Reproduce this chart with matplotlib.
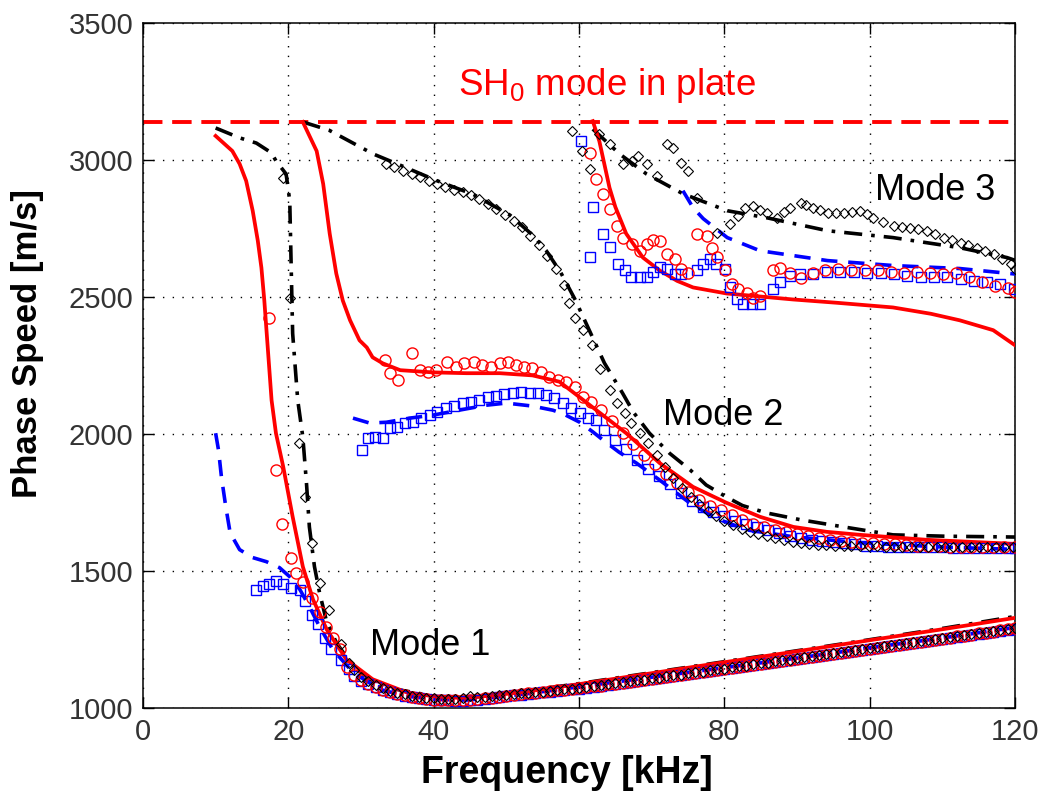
import numpy as np
import matplotlib
matplotlib.use("Agg")
import matplotlib.pyplot as plt

plt.rcParams['font.family'] = ['Liberation Sans', 'DejaVu Sans']
plt.rcParams['mathtext.fontset'] = 'custom'
plt.rcParams['mathtext.rm'] = 'Liberation Sans'
plt.rcParams['mathtext.it'] = 'Liberation Sans'

# ------------------------
# 1. Data  (freq in kHz, phase speed in m/s)
# ------------------------
sh0_speed = 3140

# --- theory: red solid
red1_f = [10.0, 12.3, 13.3, 14.2, 15.1, 15.8, 16.3, 16.7, 17.2, 17.7, 18.3, 19.3, 20.6, 22.0, 23.4,
          25.3, 28.0, 31.6, 36.3, 39.9, 43.5, 47.5, 52.5, 60.5, 70.5, 80.5, 90.5, 100.4, 110.4, 120]
red1_v = [3089, 3034, 2987, 2925, 2816, 2707, 2608, 2488, 2306, 2124, 2004, 1882, 1699, 1517, 1397,
          1287, 1178, 1106, 1058, 1044, 1038, 1045, 1060, 1090, 1130, 1170, 1210, 1250, 1290, 1330]
red2_f = [22.0, 23.9, 24.8, 25.7, 26.6, 27.5, 28.5, 29.8, 30.8, 31.6, 33.0, 35.4, 39.9, 44.5, 49.1,
          53.6, 57.3, 60.1, 62.2, 66.5, 71.1, 75.7, 80.3, 84.9, 89.5, 94.1, 98.7, 107.8, 120]
red2_v = [3140, 3034, 2914, 2732, 2587, 2488, 2416, 2343, 2317, 2281, 2259, 2234, 2226, 2223, 2223,
          2215, 2192, 2135, 2092, 2004, 1895, 1808, 1750, 1699, 1662, 1644, 1633, 1615, 1600]
red3_f = [61.9, 62.8, 64.2, 65.0, 66.5, 68.8, 71.1, 73.5, 75.7, 80.3, 89.5, 95.5, 103.2, 108.4, 112.4, 117.0, 120]
red3_v = [3143, 3070, 2900, 2830, 2732, 2645, 2598, 2560, 2536, 2514, 2492, 2480, 2463, 2440, 2416, 2380, 2325]

# --- theory: black dash-dot
blk1_f = [10.0, 13.3, 15.6, 17.7, 18.3, 19.7, 20.2, 20.4, 20.6, 21.3, 22.0, 22.5, 22.9, 23.6, 24.3,
          25.2, 26.6, 28.9, 32.6, 37.2, 40.5, 44.5, 48.5, 52.5, 60.5, 70.5, 80.5, 90.5, 100.4, 110.4, 120]
blk1_v = [3118, 3082, 3063, 3027, 2998, 2950, 2852, 2608, 2368, 2124, 1990, 1822, 1662, 1517, 1422,
          1324, 1240, 1153, 1080, 1058, 1042, 1038, 1048, 1062, 1092, 1132, 1172, 1212, 1252, 1293, 1335]
blk2_f = [22.0, 25.6, 31.7, 35.6, 40.5, 45.5, 50.5, 53.5, 55.5, 57.5, 59.5, 61.5, 63.5, 66.0, 67.5,
          69.7, 72.5, 75.3, 77.5, 80.3, 82.5, 85.8, 90.5, 96.4, 103.2, 110.4, 117.0, 120]
blk2_v = [3140, 3110, 3023, 2980, 2925, 2875, 2800, 2730, 2670, 2590, 2490, 2375, 2260, 2150, 2080,
          2004, 1930, 1870, 1815, 1771, 1740, 1713, 1688, 1662, 1633, 1628, 1626, 1625]
blk3_f = [61.9, 65.6, 69.3, 74.3, 80.4, 85.9, 94.2, 103.2, 112.4, 118.9, 120]
blk3_v = [3114, 3023, 2950, 2878, 2816, 2790, 2743, 2718, 2681, 2645, 2635]

# --- theory: blue dashed
blu1_f = [10.0, 10.4, 10.8, 11.4, 12.0, 13.3, 15.1, 17.0, 18.8, 20.2, 21.6, 22.9, 24.3, 26.1,
          28.9, 32.6, 36.3, 40.5, 44.5, 48.5, 52.5, 60.5, 70.5, 80.5, 90.5, 100.4, 110.4, 120]
blu1_v = [2004, 1942, 1844, 1735, 1640, 1579, 1550, 1535, 1513, 1480, 1433, 1371, 1298, 1215,
          1131, 1069, 1044, 1032, 1030, 1040, 1052, 1080, 1115, 1150, 1185, 1222, 1258, 1295]
blu2_f = [28.9, 31.2, 33.5, 36.7, 39.9, 43.5, 47.2, 50.0, 53.6, 56.4, 57.8, 60.1, 61.9, 63.5,
          65.5, 67.9, 71.1, 75.7, 79.4, 83.1, 89.5, 98.7, 110.4, 120]
blu2_v = [2059, 2041, 2044, 2059, 2070, 2088, 2106, 2114, 2103, 2088, 2075, 2044, 2009, 1975,
          1935, 1895, 1833, 1740, 1688, 1651, 1626, 1604, 1588, 1580]
blu3_f = [74.3, 75.7, 77.1, 80.4, 84.9, 94.2, 103.2, 112.4, 120]
blu3_v = [2889, 2827, 2787, 2718, 2670, 2634, 2616, 2605, 2585]

# --- measured: mode 1 (uniform 1 kHz grid after the steep part)
m1_tail_f = list(range(29, 121))

sq1_f = [15.6, 16.5, 17.4, 18.3, 19.3, 20.4, 21.6, 22.3, 23.2, 24.1, 25.0, 25.9, 27.3, 28.3] + m1_tail_f
sq1_v = [1431, 1445, 1455, 1463, 1455, 1440, 1433, 1391, 1339, 1306, 1258, 1218, 1178, 1145,
         1118, 1100, 1087, 1076, 1066, 1058, 1051, 1046, 1041, 1037,
         1034, 1031, 1030, 1029, 1028, 1028, 1030, 1032, 1035, 1038,
         1041, 1044, 1047, 1050, 1053, 1055, 1058, 1060, 1063, 1066,
         1069, 1072, 1075, 1079, 1082, 1085, 1089, 1092, 1096, 1099,
         1103, 1106, 1110, 1113, 1117, 1120, 1124, 1128, 1131, 1135,
         1139, 1142, 1146, 1150, 1153, 1157, 1161, 1164, 1168, 1172,
         1175, 1179, 1183, 1186, 1190, 1194, 1197, 1201, 1205, 1208,
         1212, 1216, 1219, 1223, 1227, 1230, 1234, 1238, 1241, 1245,
         1249, 1252, 1256, 1260, 1263, 1267, 1271, 1274, 1278, 1282,
         1285, 1289]

ci1_f = [17.4, 18.35, 19.2, 20.4, 21.1, 22.0, 23.2, 24.3, 25.2, 26.1, 27.1, 28.1] + m1_tail_f
ci1_v = [2426, 1870, 1673, 1550, 1495, 1462, 1404, 1353, 1298, 1255, 1215, 1150,
         1122, 1104, 1090, 1078, 1068, 1060, 1053, 1047, 1042, 1038,
         1035, 1032, 1030, 1029, 1029, 1030, 1031, 1033, 1036, 1039,
         1042, 1045, 1048, 1051, 1054, 1056, 1059, 1062, 1065, 1068,
         1071, 1074, 1077, 1080, 1083, 1087, 1090, 1094, 1097, 1101,
         1104, 1108, 1111, 1115, 1119, 1122, 1126, 1130, 1133, 1137,
         1141, 1144, 1148, 1152, 1155, 1159, 1163, 1166, 1170, 1174,
         1177, 1181, 1185, 1188, 1192, 1196, 1199, 1203, 1207, 1210,
         1214, 1218, 1221, 1225, 1229, 1232, 1236, 1240, 1243, 1247,
         1251, 1254, 1258, 1262, 1265, 1269, 1273, 1276, 1280, 1284,
         1288, 1292]

di1_f = [19.3, 20.2, 21.5, 22.3, 23.2, 24.4, 25.6, 27.3, 28.3] + m1_tail_f
di1_v = [2937, 2499, 1968, 1772, 1604, 1459, 1357, 1233, 1167,
         1140, 1115, 1098, 1084, 1073, 1064, 1057, 1051, 1046, 1042,
         1039, 1037, 1035, 1034, 1034, 1036, 1044, 1040, 1042, 1045,
         1048, 1050, 1053, 1055, 1057, 1059, 1061, 1064, 1066, 1069,
         1072, 1075, 1078, 1081, 1084, 1088, 1091, 1095, 1098, 1102,
         1105, 1109, 1112, 1116, 1120, 1123, 1127, 1131, 1134, 1138,
         1142, 1145, 1149, 1153, 1156, 1160, 1164, 1167, 1171, 1175,
         1178, 1182, 1186, 1189, 1193, 1197, 1200, 1204, 1208, 1211,
         1215, 1219, 1222, 1226, 1230, 1233, 1237, 1241, 1244, 1248,
         1252, 1255, 1259, 1263, 1266, 1270, 1274, 1277, 1281, 1285,
         1289, 1292]

# --- measured: mode 2
ci2_f = [33.3, 34.0, 35.1, 37.0, 38.1, 39.2, 40.3, 41.9, 43.1, 44.2, 45.6, 46.7, 47.9, 49.1, 50.2,
         51.3, 52.5, 53.6, 54.8, 55.9, 57.1, 58.2, 59.4, 60.5, 61.7, 63.0, 64.5, 66.0, 67.5, 69.0,
         70.5, 72.0, 73.5, 75.0, 76.5, 78.0, 79.5, 81.0, 82.5, 84.0, 85.5, 87.0, 88.5, 90.0, 91.5,
         93.0, 94.5, 96.0, 97.5, 99.0, 100.5, 102.0, 103.5, 105.0, 106.5, 108.0, 109.5, 111.0,
         112.5, 114.0, 115.5, 117.0, 118.5, 120.0]
ci2_v = [2270, 2223, 2197, 2295, 2234, 2226, 2234, 2263, 2245, 2259, 2263, 2252, 2245, 2259, 2263,
         2252, 2245, 2241, 2226, 2208, 2197, 2190, 2172, 2135, 2117, 2090, 2050, 2005, 1965, 1925,
         1890, 1855, 1822, 1790, 1762, 1740, 1722, 1705, 1688, 1672, 1660, 1650, 1642, 1636, 1628,
         1620, 1614, 1610, 1606, 1604, 1602, 1600, 1598, 1596, 1594, 1592, 1591, 1590,
         1590, 1589, 1589, 1588, 1588, 1588]

sq2_f = [30.1, 30.9, 31.9, 33.0, 34.0, 34.9, 36.0, 37.2, 38.3, 39.5, 40.5, 41.7, 42.8, 44.0, 45.1,
         46.3, 47.5, 48.6, 49.7, 50.9, 52.0, 53.2, 54.3, 55.5, 56.6, 57.8, 58.9, 60.1, 61.2, 62.4,
         63.5, 65.0, 66.5, 68.0, 69.5, 71.0, 72.5, 74.0, 75.5, 77.0, 78.5, 80.0, 81.5, 83.0, 84.5,
         86.0, 87.5, 89.0, 90.5, 92.0, 93.5, 95.0, 96.5, 98.0, 99.5, 101.0, 102.5, 104.0, 105.5,
         107.0, 108.5, 110.0, 111.5, 113.0, 114.5, 116.0, 117.5, 119.0, 120.0]
sq2_v = [1942, 1986, 1990, 1986, 2023, 2026, 2041, 2044, 2059, 2070, 2081, 2095, 2103, 2114, 2117,
         2124, 2135, 2139, 2146, 2150, 2153, 2150, 2150, 2142, 2131, 2114, 2095, 2077, 2059, 2052,
         2015, 1980, 1945, 1905, 1875, 1848, 1818, 1785, 1755, 1735, 1715, 1700, 1685, 1672, 1662,
         1652, 1640, 1630, 1622, 1616, 1611, 1607, 1602, 1598, 1594, 1592, 1590, 1589, 1588,
         1588, 1587, 1587, 1586, 1586, 1586, 1585, 1585, 1585, 1585]

di2_f = [33.5, 34.6, 35.8, 37.0, 38.1, 39.3, 40.5, 41.6, 42.8, 44.0, 45.1, 46.3, 47.5, 48.6, 49.8,
         51.0, 52.1, 53.3, 54.5, 55.6, 56.8, 58.0, 58.6, 59.5, 60.6, 61.8, 62.9, 64.2, 65.3, 66.3,
         67.2, 68.4, 69.5, 70.7, 71.9, 73.0, 74.2, 75.4, 76.5, 77.7, 78.9, 80.0, 81.2, 82.4, 83.5,
         84.7, 85.9, 87.0, 88.2, 89.4, 90.5, 91.7, 92.9, 94.0, 95.2, 96.4, 97.5, 98.7, 99.9, 101.0,
         102.2, 103.4, 104.5, 105.7, 106.9, 108.0, 109.2, 110.4, 111.5, 112.7, 113.9, 115.0, 116.2,
         117.4, 118.5, 119.7]
di2_v = [2987, 2975, 2962, 2950, 2938, 2925, 2913, 2902, 2893, 2885, 2874, 2860, 2842, 2822, 2800,
         2780, 2755, 2725, 2690, 2650, 2605, 2545, 2481, 2423, 2379, 2325, 2240, 2161, 2113, 2077,
         2041, 2004, 1968, 1925, 1880, 1840, 1805, 1772, 1745, 1720, 1700, 1683, 1668, 1655, 1645,
         1637, 1630, 1622, 1615, 1608, 1603, 1600, 1597, 1595, 1594, 1593, 1592, 1592, 1591, 1591,
         1590, 1590, 1590, 1590, 1590, 1590, 1590, 1590, 1590, 1590, 1590, 1590, 1590,
         1590, 1590, 1590]

# --- measured: mode 3
ci3_f = [61.5, 62.4, 63.3, 64.2, 65.3, 66.0, 67.3, 68.4, 69.3, 70.2, 71.1, 72.1, 73.2, 74.1, 75.0,
         76.2, 77.6, 78.3, 79.0, 80.1, 81.1, 81.9, 83.1, 83.9, 84.9, 86.7, 87.7, 89.1, 90.5, 92.2,
         93.9, 95.7, 97.5, 99.3, 101.1, 102.9, 104.7, 106.5, 108.3, 110.1, 111.9, 113.7, 115.5,
         117.3, 119.1, 120.0]
ci3_v = [3027, 2932, 2878, 2823, 2761, 2718, 2696, 2670, 2696, 2710, 2707, 2659, 2641, 2605, 2587,
         2732, 2725, 2681, 2648, 2598, 2550, 2532, 2514, 2499, 2506, 2598, 2608, 2587, 2572, 2590,
         2600, 2603, 2600, 2598, 2598, 2593, 2590, 2593, 2590, 2585, 2587, 2575, 2555,
         2540, 2535, 2520]

sq3_f = [60.3, 61.5, 61.9, 63.3, 64.2, 65.4, 66.3, 67.2, 68.4, 69.3, 70.2, 71.1, 72.1, 73.2, 74.1,
         76.2, 77.1, 78.0, 78.9, 80.1, 80.8, 81.7, 82.6, 83.8, 84.9, 86.7, 87.7, 89.1, 90.4, 92.2,
         94.1, 95.9, 97.8, 99.6, 101.5, 103.3, 105.1, 107.0, 108.8, 110.7, 112.5, 114.3, 116.2,
         118.0, 119.9]
sq3_v = [3070, 2648, 2828, 2731, 2682, 2622, 2598, 2573, 2573, 2573, 2591, 2609, 2604, 2585, 2585,
         2598, 2622, 2640, 2622, 2604, 2537, 2494, 2474, 2474, 2474, 2531, 2555, 2579, 2585, 2585,
         2591, 2591, 2591, 2588, 2588, 2585, 2579, 2573, 2573, 2573, 2567, 2561, 2555,
         2549, 2531]

di3_f = [59.1, 60.4, 61.5, 62.8, 64.2, 66.0, 67.3, 68.1, 69.3, 70.7, 72.1, 72.9, 74.1, 75.0, 76.2,
         79.0, 80.8, 81.9, 82.8, 83.9, 84.9, 85.9, 87.3, 88.2, 89.1, 90.5, 91.3, 92.2, 93.2, 94.2,
         95.3, 96.4, 97.6, 98.7, 99.6, 100.5, 101.9, 103.3, 104.4, 105.6, 106.7, 107.9, 109.0,
         110.2, 111.3, 112.5, 113.6, 114.8, 115.9, 117.1, 118.2, 119.4, 120.0]
di3_v = [3107, 3034, 2968, 3096, 3060, 2987, 2998, 3016, 2987, 2943, 3060, 3045, 2991, 2961, 2863,
         2736, 2769, 2798, 2827, 2834, 2820, 2809, 2790, 2810, 2827, 2845, 2838, 2827, 2818, 2809,
         2809, 2809, 2812, 2816, 2805, 2790, 2775, 2761, 2758, 2754, 2750, 2743, 2730,
         2718, 2709, 2700, 2690, 2681, 2670, 2659, 2640, 2623, 2605]

# ------------------------
# 2. Figure
# ------------------------
fig = plt.figure(figsize=(10.45, 7.96), dpi=100)
ax = fig.add_axes([0.1368, 0.1102, 0.8345, 0.8605])

ax.grid(True, color='black', linestyle=(0, (1, 6)), linewidth=1.0, zorder=0)
ax.set_axisbelow(True)

# SH0 reference
ax.axhline(sh0_speed, color='red', linewidth=2.8, linestyle=(0, (5, 2.5)), zorder=2)

dashdot = (0, (5, 2.5, 1, 2.5))
dashed = (0, (4.5, 3))
for f, v in [(blk1_f, blk1_v), (blk2_f, blk2_v), (blk3_f, blk3_v)]:
    ax.plot(f, v, color='black', linewidth=2.6, linestyle=dashdot, zorder=3)
for f, v in [(blu1_f, blu1_v), (blu2_f, blu2_v), (blu3_f, blu3_v)]:
    ax.plot(f, v, color='blue', linewidth=2.6, linestyle=dashed, zorder=3)
for f, v in [(red1_f, red1_v), (red2_f, red2_v), (red3_f, red3_v)]:
    ax.plot(f, v, color='red', linewidth=2.7, linestyle='-', zorder=3)

# measured points
for f, v in [(sq1_f, sq1_v), (sq2_f, sq2_v), (sq3_f, sq3_v)]:
    ax.plot(f, v, 's', mfc='none', mec='blue', ms=6.5, mew=1.0, zorder=4)
for f, v in [(ci1_f, ci1_v), (ci2_f, ci2_v), (ci3_f, ci3_v)]:
    ax.plot(f, v, 'o', mfc='none', mec='red', ms=8, mew=1.0, zorder=4)
for f, v in [(di1_f, di1_v), (di2_f, di2_v), (di3_f, di3_v)]:
    ax.plot(f, v, 'D', mfc='none', mec='black', ms=5.2, mew=0.8, zorder=5)

# labels inside the plot
ax.text(31.2, 1195, 'Mode 1', fontsize=26, ha='left', va='baseline', zorder=6)
ax.text(71.6, 2034, 'Mode 2', fontsize=26, ha='left', va='baseline', zorder=6)
ax.text(100.7, 2855, 'Mode 3', fontsize=26, ha='left', va='baseline', zorder=6)
ax.text(43.3, 3238, r'SH$_0$ mode in plate', color='red', fontsize=26.5,
        ha='left', va='baseline', zorder=6)

# axes
ax.set_xlim(0, 120)
ax.set_ylim(1000, 3500)
ax.set_xticks([0, 20, 40, 60, 80, 100, 120])
ax.set_yticks([1000, 1500, 2000, 2500, 3000, 3500])
ax.tick_params(direction='in', length=8, width=1.0, top=True, right=True,
               labelsize=21, labelcolor='#333333', pad=7)
for s in ax.spines.values():
    s.set_linewidth(1.1)

ax.set_xlabel('Frequency [kHz]', fontsize=27, fontweight='bold')
ax.xaxis.set_label_coords(0.486, -0.068)
ax.set_ylabel('Phase Speed [m/s]', fontsize=25, fontweight='bold')
ax.yaxis.set_label_coords(-0.113, 0.533)

fig.savefig('out.png', dpi=100)
